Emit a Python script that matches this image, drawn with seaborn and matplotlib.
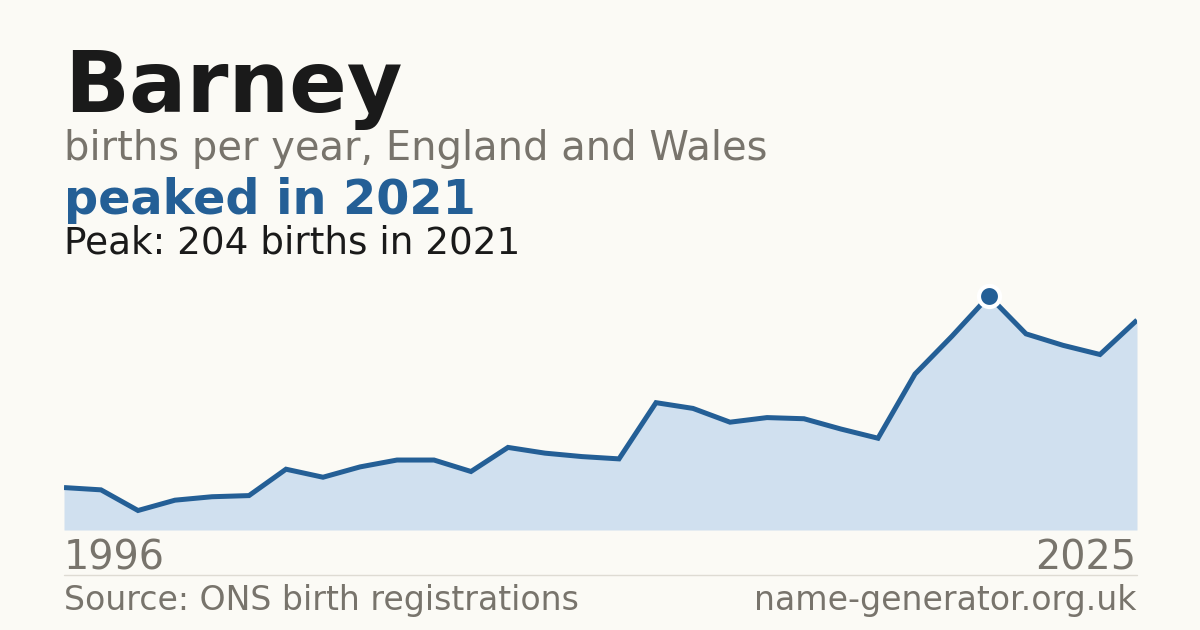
import matplotlib
matplotlib.use("Agg")
import matplotlib.pyplot as plt
import seaborn as sns
import pandas as pd

# Barney, births per year (England and Wales)
years = list(range(1996, 2026))
births = [37, 35, 17, 26, 29, 30, 53, 46, 55, 61,
          61, 51, 72, 67, 64, 62, 111, 106, 94, 98,
          97, 88, 80, 136, 169, 204, 171, 161, 153, 183]

name = "Barney"
subtitle = "births per year, England and Wales"
headline = "peaked in 2021"
source = "Source: ONS birth registrations"
site = "name-generator.org.uk"

df = pd.DataFrame({"year": years, "births": births})
peak = df.loc[df["births"].idxmax()]

BG = "#fbfaf5"
BLUE = "#245f96"
FILL = "#d0e0ef"
GREY = "#78746c"
DARK = "#1a1a1a"

sns.set_style("white")
plt.rcParams["font.family"] = ["DejaVu Sans"]

W, H = 1200, 630
fig = plt.figure(figsize=(12, 6.3), dpi=100, facecolor=BG)

# plot area in pixels: x 64..1137, baseline y=530
ax = fig.add_axes([64 / W, (H - 530) / H, (1137 - 64) / W, 260 / H])
ax.set_facecolor("none")
ax.fill_between(df["year"], df["births"], 0, color=FILL, linewidth=0)
sns.lineplot(data=df, x="year", y="births", ax=ax, color=BLUE,
             linewidth=3.6, solid_capstyle="butt", solid_joinstyle="miter")
ax.scatter([peak["year"]], [peak["births"]], s=230, color=BLUE,
           edgecolor="white", linewidth=3, zorder=5)
ax.set_xlim(years[0], years[-1])
ax.set_ylim(0, max(births) * 260 / 234)
ax.axis("off")

def px(x, y):
    return x / W, 1 - y / H

fig.text(*px(64, 112), name, fontsize=61.4, fontweight="bold", color=DARK, va="baseline")
fig.text(*px(64, 160), subtitle, fontsize=28.8, color=GREY, va="baseline")
fig.text(*px(64, 214), headline, fontsize=34.4, fontweight="bold", color=BLUE, va="baseline")
fig.text(*px(64, 254), f"Peak: {int(peak['births'])} births in {int(peak['year'])}",
         fontsize=26.9, color=DARK, va="baseline")

fig.text(*px(64, 570), str(years[0]), fontsize=28.6, color=GREY, va="baseline")
fig.text(*px(1136, 570), str(years[-1]), fontsize=28.6, color=GREY, va="baseline", ha="right")

fig.add_artist(plt.Line2D([64 / W, 1137 / W], [1 - 574.5 / H] * 2, color="#dedbd3", linewidth=1))

fig.text(*px(64, 610), source, fontsize=23.9, color=GREY, va="baseline")
fig.text(*px(1136, 610), site, fontsize=23.9, color=GREY, va="baseline", ha="right")

fig.savefig("out.png", dpi=100, facecolor=BG)
